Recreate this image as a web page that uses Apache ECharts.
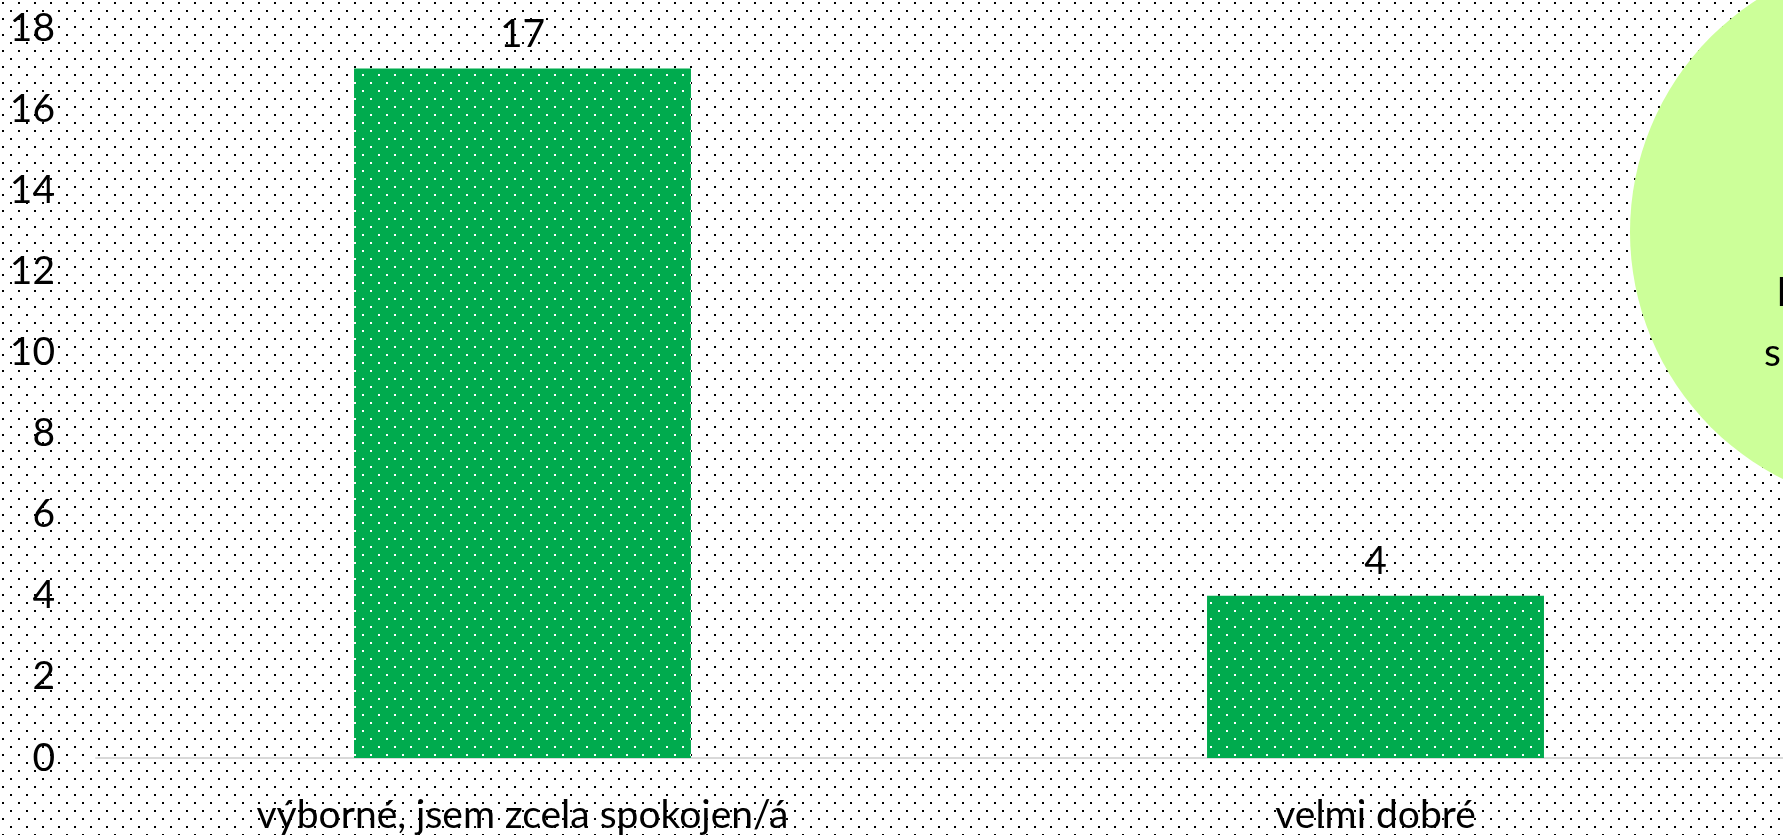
<!DOCTYPE html>
<html>
<head>
<meta charset="utf-8">
<script src="https://cdn.jsdelivr.net/npm/echarts@6/dist/echarts.min.js"></script>
<style>
html,body{margin:0;padding:0;background:#fff;overflow:hidden;width:1783px;height:835px;}
#chart{width:1802px;height:835px;}
</style>
</head>
<body>
<div id="chart"></div>
<script>
const categories = ['výborné, jsem zcela spokojen/á', 'velmi dobré'];
const values = [17, 4];
const yTicks = [0, 2, 4, 6, 8, 10, 12, 14, 16, 18];
const bubbleLines = ['l', 's'];

const FONT = 'Lato';
const FS = 39;

function dotTile(bg, dot) {
  const c = document.createElement('canvas');
  c.width = 16; c.height = 16;
  const g = c.getContext('2d');
  if (bg) { g.fillStyle = bg; g.fillRect(0, 0, 16, 16); }
  g.fillStyle = dot;
  g.fillRect(2, 2, 2, 2);
  g.fillRect(10, 10, 2, 2);
  return c;
}
const bgTile = dotTile(null, '#000');
const barTile = dotTile('#00AB4E', '#ffffff');

const chart = echarts.init(document.getElementById('chart'), null, {renderer: 'canvas'});
chart.setOption({
  backgroundColor: 'transparent',
  animation: false,
  grid: {left: 96, right: 0, top: 28, bottom: 77, containLabel: false},
  xAxis: {
    type: 'category',
    data: categories,
    axisLine: {show: true, lineStyle: {color: '#D9D9D9', width: 2}},
    axisTick: {show: false},
    axisLabel: {color: '#000', fontFamily: FONT, fontSize: FS, margin: 38, interval: 0}
  },
  yAxis: {
    type: 'value',
    min: yTicks[0],
    max: yTicks[yTicks.length - 1],
    interval: 2,
    axisLine: {show: false},
    axisTick: {show: false},
    splitLine: {show: false},
    axisLabel: {color: '#000', fontFamily: FONT, fontSize: FS, margin: 41}
  },
  series: [{
    type: 'bar',
    data: values,
    barWidth: '39.5%',
    itemStyle: {color: {image: barTile, repeat: 'repeat'}},
    label: {show: true, position: 'top', distance: 15, color: '#000', fontFamily: FONT, fontSize: FS}
  }],
  graphic: [
    {type: 'rect', z: -10, silent: true, shape: {x: 0, y: 0, width: 1802, height: 835},
     style: {fill: {image: bgTile, repeat: 'repeat'}}},
    {type: 'circle', z: 10, silent: true, shape: {cx: 1906, cy: 232, r: 276},
     style: {fill: '#CCFF99'}},
    {type: 'text', z: 11, silent: true, left: 1777, top: 274,
     style: {text: bubbleLines[0], fill: '#000', font: FS + 'px ' + FONT}},
    {type: 'text', z: 11, silent: true, left: 1764, top: 334,
     style: {text: bubbleLines[1], fill: '#000', font: FS + 'px ' + FONT}}
  ]
});
</script>
</body>
</html>
